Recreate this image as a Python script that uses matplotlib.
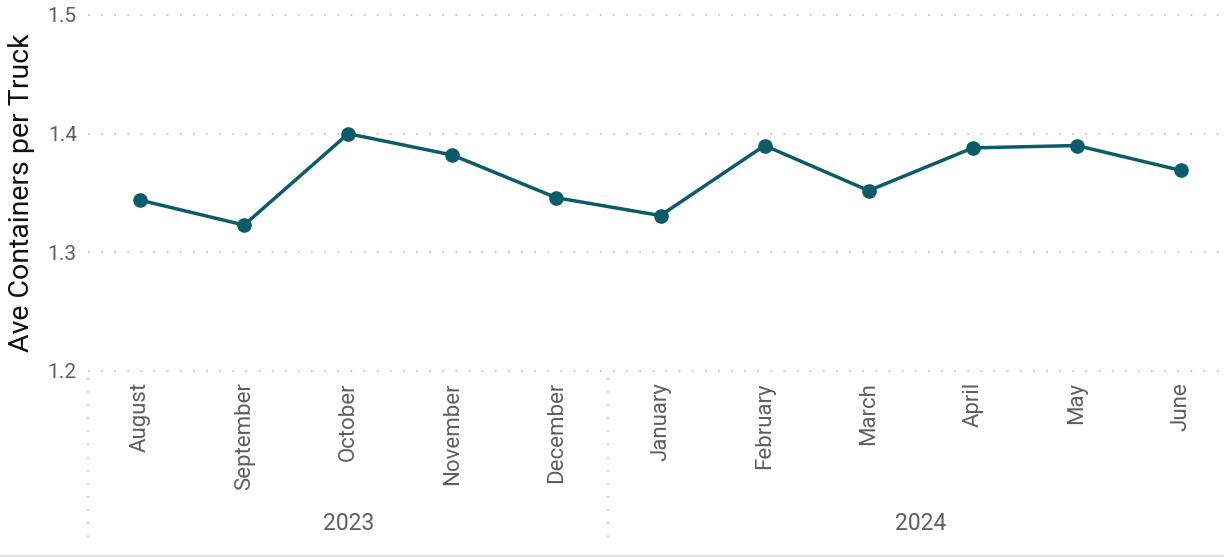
import matplotlib
matplotlib.use("Agg")
import matplotlib.pyplot as plt
from matplotlib.transforms import blended_transform_factory

months = ["August", "September", "October", "November", "December",
          "January", "February", "March", "April", "May", "June"]
values = [1.344, 1.323, 1.400, 1.382, 1.346, 1.331, 1.390, 1.352, 1.388, 1.390, 1.369]
years = ["2023", "2024"]
year_counts = [5, 6]
yticks = [1.2, 1.3, 1.4, 1.5]

plt.rcParams['font.family'] = ['Roboto', 'DejaVu Sans']

W, H = 1224, 557
fig = plt.figure(figsize=(W / 100, H / 100), dpi=100)
left_px, right_px, top_px, bot_px = 88, 1233, 15, 371
ax = fig.add_axes([left_px / W, 1 - bot_px / H, (right_px - left_px) / W, (bot_px - top_px) / H])

x = list(range(len(months)))
line_color = "#0B5B6B"
ax.plot(x, values, color=line_color, lw=2.5, marker="o", markersize=9.5, zorder=3)

ax.set_xlim(-0.5, len(months) - 0.5)
ax.set_ylim(1.2, 1.5)
ax.set_yticks(yticks)
ax.set_yticklabels([f"{v:.1f}" for v in yticks])
ax.set_xticks(x)
ax.set_xticklabels(months, rotation=90, va="top", ha="center")

for s in ax.spines.values():
    s.set_visible(False)
ax.tick_params(axis="both", length=0)
ax.tick_params(axis="y", pad=8, labelsize=15, labelcolor="#605E5C")
ax.tick_params(axis="x", pad=8, labelsize=16, labelcolor="#605E5C")

for yv in yticks:
    ax.axhline(yv, color="#C8C8C8", lw=1.5, linestyle=(0, (0.8, 5.5)), zorder=1, clip_on=False)

ax.set_ylabel("Ave Containers per Truck", fontsize=20.5, color="#111111")
ax.yaxis.set_label_coords((35 - left_px) / (right_px - left_px), 0.5)

trans = blended_transform_factory(ax.transData, ax.transAxes)
axh = bot_px - top_px
y0 = (bot_px - 378) / axh
y1 = (bot_px - 537) / axh
ylab = (bot_px - 523) / axh
start = -0.5
bounds = [start]
for c in year_counts:
    bounds.append(bounds[-1] + c)
for b in bounds[:-1]:
    ax.plot([b, b], [y0, y1], transform=trans, color="#C8C8C8", lw=1.5,
            linestyle=(0, (0.8, 5.5)), clip_on=False)
for i, yr in enumerate(years):
    cx = (bounds[i] + bounds[i + 1]) / 2
    ax.text(cx, ylab, yr, transform=trans, ha="center", va="center",
            fontsize=16.5, color="#605E5C")

fig.add_artist(plt.Line2D([0, 1], [1 - 556 / H, 1 - 556 / H], transform=fig.transFigure,
                          color="#E0E0E0", lw=1.5))

fig.savefig("out.png", dpi=100)
